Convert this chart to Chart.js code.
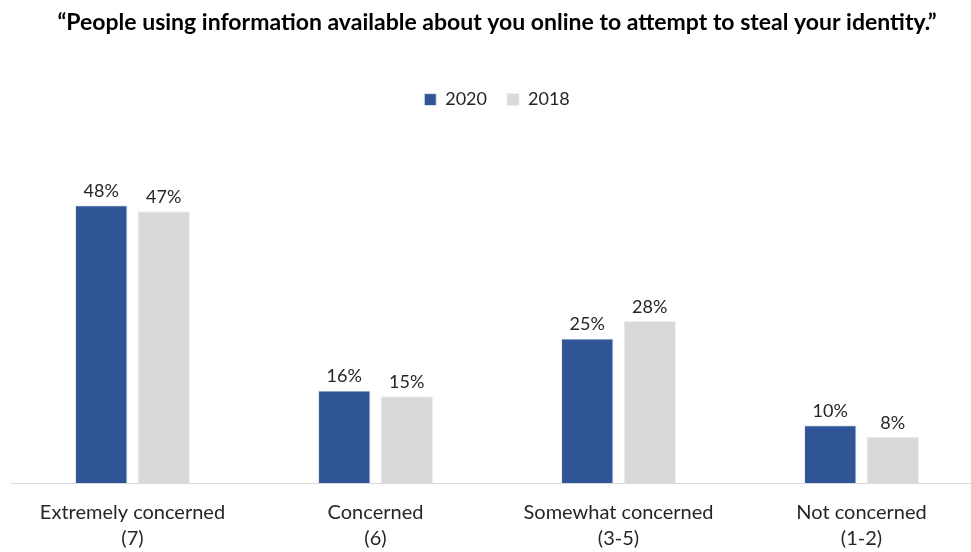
<!DOCTYPE html>
<html>
<head>
<meta charset="utf-8">
<script src="https://cdn.jsdelivr.net/npm/chart.js@4"></script>
<style>
    body { margin: 0; background: #fff; overflow: hidden; }
    #wrap { width: 990px; height: 552px; }
</style>
</head>
<body>
<div id="wrap"><canvas id="concernChart"></canvas></div>
<script>
const chartTitle = '\u201cPeople using information available about you online to attempt to steal your identity.\u201d';
const categories = [
    ['Extremely concerned', '(7)'],
    ['Concerned', '(6)'],
    ['Somewhat concerned', '(3-5)'],
    ['Not concerned', '(1-2)']
];
const values2020 = [48, 16, 25, 10];
const values2018 = [47, 15, 28, 8];

// draws the "48%" labels above each bar
const barLabels = {
    id: 'barLabels',
    afterDatasetsDraw(chart) {
        const ctx = chart.ctx;
        ctx.save();
        ctx.font = '18px Lato';
        ctx.fillStyle = '#262626';
        ctx.textAlign = 'center';
        ctx.textBaseline = 'bottom';
        chart.data.datasets.forEach((ds, i) => {
            chart.getDatasetMeta(i).data.forEach((bar, j) => {
                ctx.fillText(ds.data[j] + '%', bar.x, bar.y - 5);
            });
        });
        ctx.restore();
    }
};

document.addEventListener("DOMContentLoaded", function() {
    var ctx = document.getElementById('concernChart').getContext('2d');
    new Chart(ctx, {
        type: 'bar',
        data: {
            labels: categories,
            datasets: [{
                label: '2020',
                data: values2020,
                backgroundColor: '#2f5597',
                borderColor: '#e4e8f0',
                borderWidth: 1
            }, {
                label: '2018',
                data: values2018,
                backgroundColor: '#d9d9d9',
                borderColor: '#eeeeee',
                borderWidth: 1
            }]
        },
        options: {
            responsive: true,
            maintainAspectRatio: false,
            animation: false,
            layout: { padding: { left: 11, right: 7, top: 4, bottom: -9 } },
            datasets: {
                bar: { categoryPercentage: 0.514, barPercentage: 0.84 }
            },
            scales: {
                x: {
                    grid: { display: false },
                    border: { display: true, color: '#d9d9d9', width: 1 },
                    ticks: {
                        color: '#262626',
                        font: { family: 'Lato', size: 20, lineHeight: 1.3 },
                        padding: 9,
                        maxRotation: 0
                    }
                },
                y: {
                    display: false,
                    min: 0,
                    max: 63
                }
            },
            plugins: {
                title: {
                    display: true,
                    text: chartTitle,
                    color: '#000',
                    font: { family: 'Lato', size: 23, weight: 'bold' },
                    padding: { top: 5, bottom: 34 }
                },
                legend: {
                    labels: {
                        color: '#262626',
                        font: { family: 'Lato', size: 18 },
                        boxWidth: 12,
                        boxHeight: 12,
                        padding: 20
                    }
                },
                tooltip: { enabled: false }
            }
        },
        plugins: [barLabels]
    });
});
</script>
</body>
</html>
